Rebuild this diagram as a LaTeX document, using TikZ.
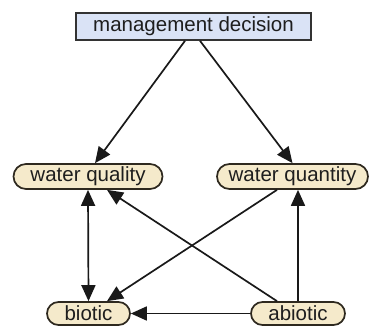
\documentclass[tikz,border=0pt]{standalone}
\usepackage{fontspec}
\setmainfont{Liberation Sans}
\usetikzlibrary{shapes.misc,arrows.meta}
\definecolor{boxblue}{HTML}{DAE3F6}
\definecolor{pillfill}{HTML}{F5EACB}
\definecolor{pilldraw}{HTML}{2E291F}
\definecolor{txt}{HTML}{1E1E1E}
\tikzset{
  decbox/.style={rectangle, draw=black!80, line width=1.6pt, fill=boxblue, inner sep=0pt,
    minimum width=235pt, minimum height=27pt, text=txt, font=\fontsize{20.5}{24}\selectfont},
  pill/.style={rounded rectangle, draw=pilldraw, line width=1.7pt, fill=pillfill, inner sep=0pt,
    minimum height=25pt, text=txt, font=\fontsize{20.5}{24}\selectfont},
  conn/.style={line width=1.7pt, draw=black!90, arrows={-Triangle[length=16pt,width=14pt]}},
  dconn/.style={line width=1.7pt, draw=black!90, arrows={Triangle[length=16pt,width=14pt]-Triangle[length=16pt,width=14pt]}}
}
\begin{document}
\begin{tikzpicture}
\begin{scope}[x=1pt,y=1pt]
\useasboundingbox (0,0) rectangle (372,-326);
\node[decbox] (md) at (193.5,-26.5) {management decision};
\node[pill, minimum width=149pt] (wq) at (88,-176.5) {water quality};
\node[pill, minimum width=151pt] (wqt) at (292.5,-176.5) {water quantity};
\node[pill, minimum width=83pt, minimum height=23pt] (bio) at (88.5,-313.5) {biotic};
\node[pill, minimum width=94pt, minimum height=23pt] (abio) at (298,-313.5) {abiotic};
\draw[conn] ([xshift=-8.5pt]md.south) -- ([xshift=7pt]wq.north);
\draw[conn] ([xshift=6.5pt]md.south) -- (wqt.north);
\draw[dconn] (wq.south) -- (bio.north);
\draw[conn] ([xshift=-15.5pt]wqt.south) -- ([xshift=18.5pt]bio.north);
\draw[conn] ([xshift=-21pt]abio.north) -- ([xshift=19pt]wq.south);
\draw[conn] (abio.north) -- (abio.north |- wqt.south);
\draw[conn] (abio.west) -- (bio.east);
\end{scope}
\end{tikzpicture}
\end{document}
